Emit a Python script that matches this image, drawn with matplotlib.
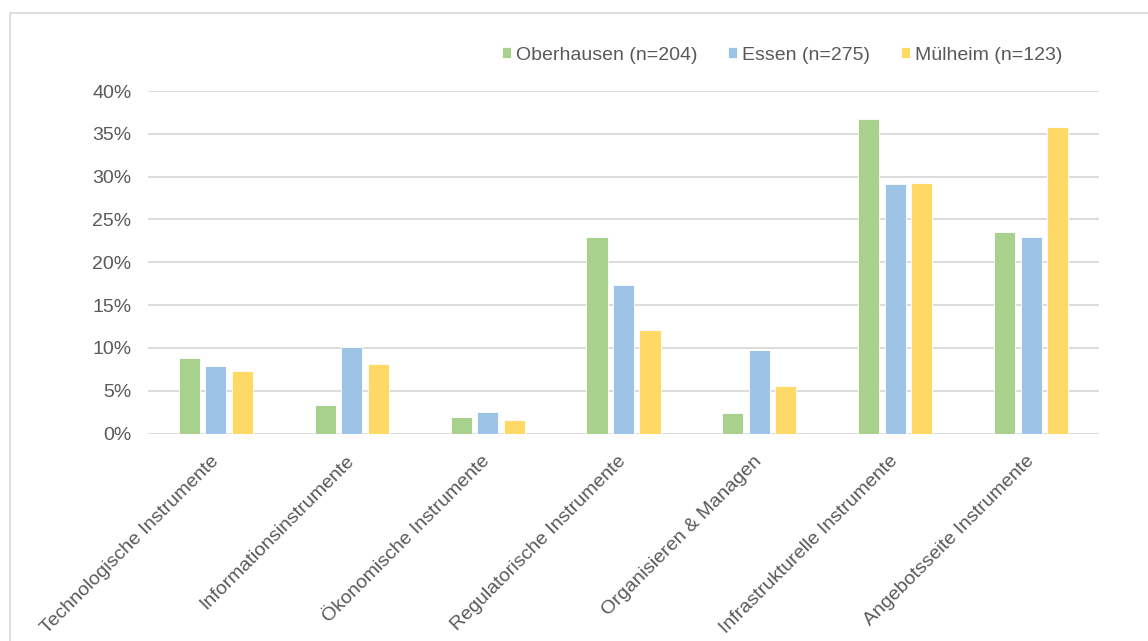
"""Grouped bar chart of instrument categories for three cities."""

import numpy as np
import matplotlib.pyplot as plt
from matplotlib.patches import Rectangle
from matplotlib.ticker import PercentFormatter

categories = ['Technologische Instrumente', 'Informationsinstrumente',
              'Ökonomische Instrumente', 'Regulatorische Instrumente',
              'Organisieren & Managen', 'Infrastrukturelle Instrumente',
              'Angebotsseite Instrumente']
series_names = ['Oberhausen (n=204)', 'Essen (n=275)', 'Mülheim (n=123)']
oberhausen = [8.8, 3.3, 1.9, 23.0, 2.4, 36.7, 23.5]
essen = [7.9, 10.1, 2.5, 17.4, 9.75, 29.1, 22.95]
muelheim = [7.3, 8.1, 1.6, 12.1, 5.6, 29.25, 35.8]
colors = ['#A9D18E', '#9DC3E6', '#FFD966']

TXT = '#595959'
GRID = '#D9D9D9'


def main():
    plt.rcParams['font.family'] = ['Liberation Sans', 'DejaVu Sans']

    fig = plt.figure(figsize=(11.48, 6.41), dpi=100)
    ax = fig.add_axes([148/1148, 207.5/641, 951/1148, 342.5/641])

    # outer chart frame (open to the right and bottom)
    fig.patches.append(Rectangle((10/1148, -0.1), 1.2, 1.1 - 13/641,
                                 transform=fig.transFigure, fill=False,
                                 edgecolor=GRID, linewidth=1.2))

    x = np.arange(len(categories))
    width = 0.155
    step = 0.195
    handles = []
    for i, (vals, c) in enumerate(zip([oberhausen, essen, muelheim], colors)):
        b = ax.bar(x + (i - 1) * step, np.array(vals) / 100, width,
                   color=c, edgecolor='white', linewidth=0.6, zorder=3)
        handles.append(b)

    ax.set_xlim(-0.5, len(categories) - 0.5)
    ax.set_ylim(0, 0.40)
    ax.set_yticks(np.arange(0, 0.41, 0.05))
    ax.yaxis.set_major_formatter(PercentFormatter(1.0, decimals=0))
    ax.grid(axis='y', color=GRID, linewidth=1.3, zorder=0)
    ax.set_axisbelow(True)
    for s in ax.spines.values():
        s.set_visible(False)

    ax.tick_params(axis='y', length=0, pad=12, labelsize=14, labelcolor=TXT)
    ax.tick_params(axis='x', length=0, pad=18, labelsize=14, labelcolor=TXT)
    ax.set_xticks(x)
    ax.set_xticklabels(categories, rotation=45, ha='right', va='center',
                       rotation_mode='anchor')

    leg = fig.legend(handles, series_names, loc='center',
                     bbox_to_anchor=(782/1148, 1 - 55/641), ncol=3,
                     frameon=False, fontsize=14, handlelength=0.45,
                     handleheight=0.45, handletextpad=0.25,
                     columnspacing=1.6)
    for t in leg.get_texts():
        t.set_color(TXT)

    fig.savefig('out.png', dpi=100)


if __name__ == '__main__':
    main()
